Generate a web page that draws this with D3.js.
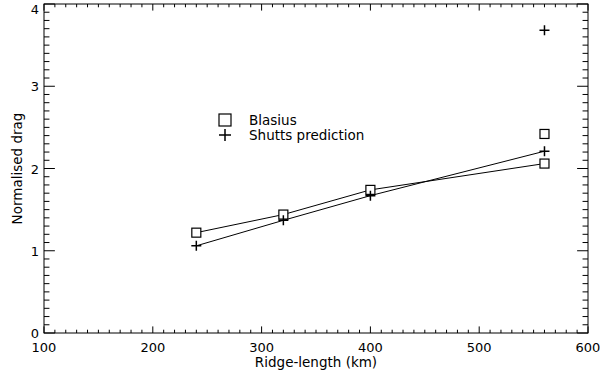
<!DOCTYPE html>
<html>
<head>
<meta charset="utf-8">
<script src="https://cdn.jsdelivr.net/npm/d3@7"></script>
<style>
  body { margin: 0; background: #fff; }
  text { font-family: "DejaVu Sans", sans-serif; fill: #000; }
</style>
</head>
<body>
<svg id="chart" width="600" height="378"></svg>
<script>
// Data
const ridgeLength = [240, 320, 400, 560];
const blasius = [1.22, 1.44, 1.74, 2.06];
const shutts = [1.06, 1.37, 1.67, 2.21];
// lone markers at 560 km, not joined to the lines
const extraBlasius = [[560, 2.42]];
const extraShutts = [[560, 3.68]];
const xTicks = [100, 200, 300, 400, 500, 600];
const yTicks = [0, 1, 2, 3, 4];

const width = 600, height = 378;
const margin = {left: 44, right: 12, top: 4, bottom: 45};
const svg = d3.select("#chart");

const x = d3.scaleLinear().domain([100, 600]).range([margin.left, width - margin.right]);
const y = d3.scaleLinear().domain([0, 4]).range([height - margin.bottom, margin.top]);

const x0 = x.range()[0], x1 = x.range()[1];
const y0 = y.range()[0], y1 = y.range()[1];

// IDL-style tick lengths (fraction of the plot size)
const xMajor = 0.02 * (y0 - y1), yMajor = 0.02 * (x1 - x0);

const axes = svg.append("g").attr("stroke", "#000").attr("stroke-width", 1);

// frame
axes.append("rect")
    .attr("x", x0).attr("y", y1)
    .attr("width", x1 - x0).attr("height", y0 - y1)
    .attr("fill", "none");

// x ticks, bottom and top
const xMinor = d3.range(100, 601, 10);
xMinor.forEach(v => {
    const len = v % 100 === 0 ? xMajor : xMajor / 2;
    axes.append("line").attr("x1", x(v)).attr("x2", x(v)).attr("y1", y0).attr("y2", y0 - len);
    axes.append("line").attr("x1", x(v)).attr("x2", x(v)).attr("y1", y1).attr("y2", y1 + len);
});

// y ticks, left and right
const yMinor = d3.range(0, 41).map(i => i / 10);
yMinor.forEach((v, i) => {
    const len = i % 10 === 0 ? yMajor : yMajor / 2;
    axes.append("line").attr("y1", y(v)).attr("y2", y(v)).attr("x1", x0).attr("x2", x0 + len);
    axes.append("line").attr("y1", y(v)).attr("y2", y(v)).attr("x1", x1).attr("x2", x1 - len);
});

// tick labels
svg.append("g").selectAll("text")
    .data(xTicks)
    .join("text")
    .attr("x", d => x(d))
    .attr("y", y0 + 19)
    .attr("text-anchor", "middle")
    .attr("font-size", 13)
    .text(d => d);

svg.append("g").selectAll("text")
    .data(yTicks)
    .join("text")
    .attr("x", x0 - 5)
    .attr("y", d => Math.max(y(d) + 5, 14))   // top label kept inside the window
    .attr("text-anchor", "end")
    .attr("font-size", 13)
    .text(d => d);

// axis titles
svg.append("text")
    .attr("x", (x0 + x1) / 2)
    .attr("y", y0 + 34)
    .attr("text-anchor", "middle")
    .attr("font-size", 13.5)
    .text("Ridge-length (km)");

svg.append("text")
    .attr("transform", `translate(22,${(y0 + y1) / 2}) rotate(-90)`)
    .attr("text-anchor", "middle")
    .attr("font-size", 13.5)
    .text("Normalised drag");

// series lines
const line = d3.line().x(d => x(d[0])).y(d => y(d[1]));
const blasiusPts = ridgeLength.map((r, i) => [r, blasius[i]]);
const shuttsPts = ridgeLength.map((r, i) => [r, shutts[i]]);

const plot = svg.append("g");
[blasiusPts, shuttsPts].forEach(pts => {
    plot.append("path")
        .attr("d", line(pts))
        .attr("fill", "none")
        .attr("stroke", "#000")
        .attr("stroke-width", 1);
});

function square(g, cx, cy, s) {
    g.append("rect")
        .attr("x", cx - s / 2).attr("y", cy - s / 2)
        .attr("width", s).attr("height", s)
        .attr("fill", "#fff").attr("stroke", "#000").attr("stroke-width", 1.2);
}
function plus(g, cx, cy, s) {
    g.append("path")
        .attr("d", `M${cx - s / 2},${cy}H${cx + s / 2}M${cx},${cy - s / 2}V${cy + s / 2}`)
        .attr("stroke", "#000").attr("stroke-width", 1.5).attr("fill", "none");
}

blasiusPts.concat(extraBlasius).forEach(d => square(plot, x(d[0]), y(d[1]), 9));
shuttsPts.concat(extraShutts).forEach(d => plus(plot, x(d[0]), y(d[1]), 10));

// legend
const legend = svg.append("g");
square(legend, 225, 120, 12);
plus(legend, 225, 135, 12);
legend.append("text").attr("x", 249).attr("y", 125).attr("font-size", 13.5).text("Blasius");
legend.append("text").attr("x", 249).attr("y", 140).attr("font-size", 13.5).text("Shutts prediction");
</script>
</body>
</html>
